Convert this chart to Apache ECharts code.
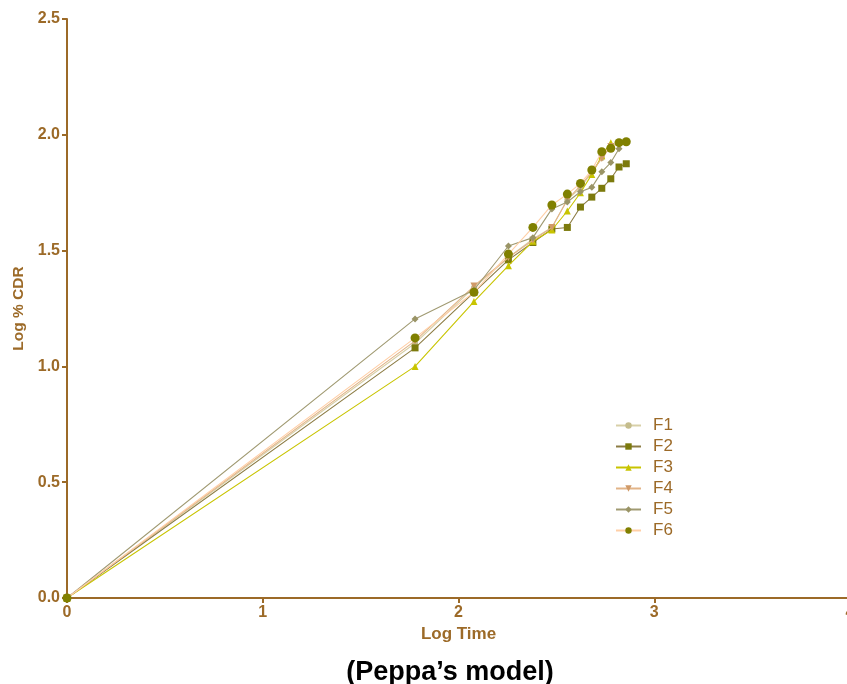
<!DOCTYPE html>
<html>
<head>
<meta charset="utf-8">
<script src="https://cdn.jsdelivr.net/npm/echarts@6/dist/echarts.min.js"></script>
<style>html,body{margin:0;padding:0;background:#fff}#c{width:847px;height:684px}</style>
</head>
<body>
<div id="c"></div>
<script>
var logTime = [0, 1.778, 2.079, 2.255, 2.380, 2.477, 2.556, 2.623, 2.681, 2.732, 2.778, 2.820, 2.857];
var seriesNames = ['F1', 'F2', 'F3', 'F4', 'F5', 'F6'];
var F1 = [0, 1.10, 1.34, 1.47, 1.55, 1.60, 1.72, 1.77, 1.84, 1.90, 1.95, 1.97];
var F2 = [0, 1.08, 1.32, 1.46, 1.535, 1.593, 1.60, 1.688, 1.731, 1.769, 1.81, 1.861, 1.875];
var F3 = [0, 1.00, 1.28, 1.435, 1.54, 1.589, 1.671, 1.75, 1.829, 1.91, 1.966];
var F4 = [0, 1.11, 1.347, 1.47, 1.545, 1.60, 1.72, 1.78, 1.84, 1.898, 1.95];
var F5 = [0, 1.205, 1.33, 1.52, 1.556, 1.68, 1.71, 1.754, 1.773, 1.84, 1.88, 1.94];
var F6 = [0, 1.123, 1.32, 1.485, 1.60, 1.697, 1.744, 1.79, 1.848, 1.927, 1.942, 1.966, 1.97];
var xTicks = [0, 1, 2, 3, 4];
var yTicks = [0, 0.5, 1.0, 1.5, 2.0, 2.5];

var values = [F1, F2, F3, F4, F5, F6];
var styles = [
  {symbol: 'circle', size: 6, mark: '#c4bc8c', line: '#d8d0a8'},
  {symbol: 'rect', size: 7, mark: '#7c7a0c', line: '#8c7c44'},
  {symbol: 'triangle', size: 7, mark: '#c8c400', line: '#c8c400'},
  {symbol: 'path://M0,0 L10,0 L5,10 Z', size: 7, mark: '#d09a68', line: '#e2b488'},
  {symbol: 'diamond', size: 7, mark: '#9a9466', line: '#a09a72'},
  {symbol: 'circle', size: 9, mark: '#808000', line: '#ffcfa6'}
];
var brown = '#9c6a28';
var font = '"Liberation Sans", Arial, sans-serif';

var series = seriesNames.map(function (n, i) {
  var d = values[i].map(function (v, j) { return [logTime[j], v]; });
  return {
    name: n, type: 'line', data: d,
    symbol: styles[i].symbol, symbolSize: styles[i].size,
    showAllSymbol: true,
    itemStyle: {color: styles[i].mark},
    lineStyle: {color: styles[i].line, width: 1.1},
    emphasis: {disabled: true},
    animation: false, z: 2 + i
  };
});

var chart = echarts.init(document.getElementById('c'), null, {renderer: 'canvas'});
chart.setOption({
  backgroundColor: '#fff',
  animation: false,
  title: {
    text: '(Peppa\u2019s model)',
    left: 445, textAlign: 'center', top: 654,
    textStyle: {fontFamily: font, fontWeight: 'bold', fontSize: 27, color: '#000'}
  },
  grid: {left: 67, right: -3, top: 19, bottom: 86, containLabel: false, outerBoundsMode: 'none'},
  legend: {
    orient: 'vertical', left: 615, top: 417, padding: 0,
    itemWidth: 25, itemHeight: 8, itemGap: 4,
    textStyle: {color: brown, fontSize: 17, fontFamily: font, padding: [0, 0, 0, 7]},
    data: seriesNames
  },
  xAxis: {
    type: 'value', min: xTicks[0], max: xTicks[xTicks.length - 1], interval: 1,
    name: 'Log Time', nameLocation: 'middle', nameGap: 27,
    nameTextStyle: {color: brown, fontWeight: 'bold', fontSize: 17, fontFamily: font},
    axisLine: {show: true, lineStyle: {color: brown, width: 2}},
    axisTick: {show: true, length: 5, lineStyle: {color: brown, width: 2}},
    axisLabel: {color: brown, fontWeight: 'bold', fontSize: 16, fontFamily: font, margin: 7, showMaxLabel: true},
    splitLine: {show: false}
  },
  yAxis: {
    type: 'value', min: yTicks[0], max: yTicks[yTicks.length - 1], interval: 0.5,
    name: 'Log % CDR', nameLocation: 'middle', nameGap: 40,
    nameTextStyle: {color: brown, fontWeight: 'bold', fontSize: 15.5, fontFamily: font},
    axisLine: {show: true, lineStyle: {color: brown, width: 2}},
    axisTick: {show: true, length: 5, lineStyle: {color: brown, width: 2}},
    axisLabel: {color: brown, fontWeight: 'bold', fontSize: 16, fontFamily: font, margin: 7,
      formatter: function (v) { return v.toFixed(1); }},
    splitLine: {show: false}
  },
  series: series
});
</script>
</body>
</html>
